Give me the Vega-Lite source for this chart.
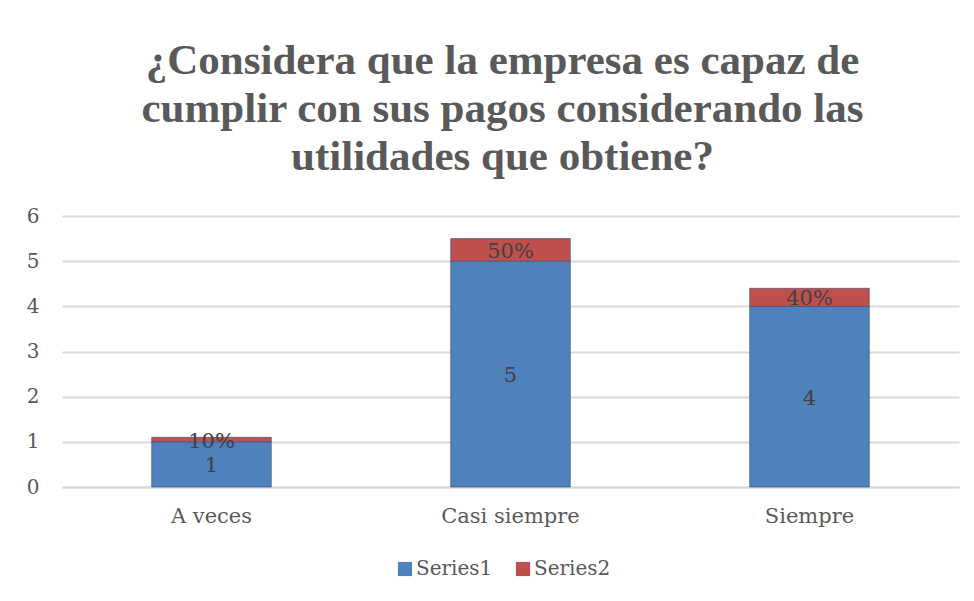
{
  "$schema": "https://vega.github.io/schema/vega-lite/v6.json",
  "width": 897,
  "height": 271,
  "autosize": "none",
  "padding": {"left": 62, "top": 216, "right": 15, "bottom": 114},
  "background": "white",
  "config": {"view": {"stroke": null}},
  "title": {
    "text": ["¿Considera que la empresa es capaz de", "cumplir con sus pagos considerando las", "utilidades que obtiene?"],
    "font": "Liberation Serif",
    "fontSize": 43,
    "fontWeight": "bold",
    "color": "#595959",
    "lineHeight": 48,
    "anchor": "middle",
    "dx": -8,
    "offset": 27
  },
  "data": {
    "values": [
      {"category": "A veces", "series": "Series1", "value": 1, "label": "1", "order": 1},
      {"category": "A veces", "series": "Series2", "value": 0.1, "label": "10%", "order": 2},
      {"category": "Casi siempre", "series": "Series1", "value": 5, "label": "5", "order": 1},
      {"category": "Casi siempre", "series": "Series2", "value": 0.5, "label": "50%", "order": 2},
      {"category": "Siempre", "series": "Series1", "value": 4, "label": "4", "order": 1},
      {"category": "Siempre", "series": "Series2", "value": 0.4, "label": "40%", "order": 2}
    ]
  },
  "transform": [
    {"stack": "value", "groupby": ["category"], "sort": [{"field": "order"}], "as": ["v0", "v1"]},
    {"calculate": "(datum.v0 + datum.v1) / 2", "as": "mid"}
  ],
  "encoding": {
    "x": {
      "field": "category",
      "type": "nominal",
      "sort": ["A veces", "Casi siempre", "Siempre"],
      "scale": {"paddingInner": 0.6, "paddingOuter": 0.3},
      "axis": {
        "title": null,
        "labelAngle": 0,
        "labelFont": "DejaVu Serif",
        "labelFontSize": 21,
        "labelColor": "#595959",
        "labelPadding": 18,
        "ticks": false,
        "domainColor": "#d9d9d9",
        "domainWidth": 2
      }
    }
  },
  "layer": [
    {
      "mark": {"type": "bar", "stroke": "#2f4f7a", "strokeWidth": 0.6},
      "encoding": {
        "y": {
          "field": "v0",
          "type": "quantitative",
          "scale": {"domain": [0, 6], "nice": false},
          "axis": {
            "title": null,
            "values": [0, 1, 2, 3, 4, 5, 6],
            "labelOverlap": false,
            "labelFont": "DejaVu Serif",
            "labelFontSize": 20,
            "labelColor": "#595959",
            "labelPadding": 23,
            "ticks": false,
            "domain": false,
            "gridColor": "#d9d9d9",
            "gridWidth": 2
          }
        },
        "y2": {"field": "v1"},
        "color": {
          "field": "series",
          "type": "nominal",
          "scale": {"domain": ["Series1", "Series2"], "range": ["#4f81bd", "#c0504d"]},
          "legend": {
            "title": null,
            "orient": "none",
            "legendX": 333,
            "legendY": 343,
            "direction": "horizontal",
            "symbolType": "square",
            "symbolSize": 200,
            "symbolStrokeWidth": 0,
            "labelFont": "DejaVu Serif",
            "labelFontSize": 20,
            "labelColor": "#595959",
            "labelOffset": 1,
            "columnPadding": 20
          }
        }
      }
    },
    {
      "mark": {"type": "text", "font": "DejaVu Serif", "fontSize": 21, "color": "#404040", "baseline": "middle", "dy": 2},
      "encoding": {
        "y": {"field": "mid", "type": "quantitative"},
        "text": {"field": "label"}
      }
    }
  ]
}
